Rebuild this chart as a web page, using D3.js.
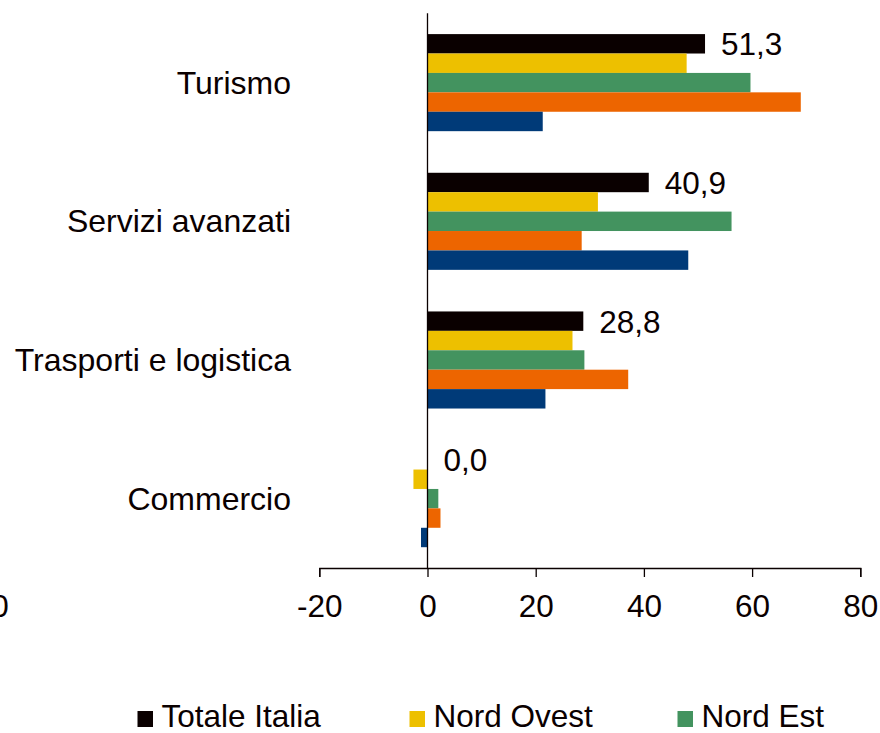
<!DOCTYPE html>
<html>
<head>
<meta charset="utf-8">
<script src="https://cdn.jsdelivr.net/npm/d3@7"></script>
<style>
  html, body { margin: 0; padding: 0; background: #fff; }
  svg { display: block; }
  text { font-family: "Liberation Sans", Arial, sans-serif; fill: #0a0000; }
</style>
</head>
<body>
<svg id="chart" width="880" height="733"></svg>
<script>
// ---- data ----
const categories = ["Turismo", "Servizi avanzati", "Trasporti e logistica", "Commercio"];
const seriesNames = ["Totale Italia", "Nord Ovest", "Nord Est", "Centro", "Mezzogiorno"];
const seriesColors = ["#0a0000", "#edc000", "#43935f", "#ed6500", "#003a78"];
const totaleItalia = [51.3, 40.9, 28.8, 0.0];
const nordOvest    = [47.9, 31.5, 26.8, -2.6];
const nordEst      = [59.7, 56.2, 29.0, 2.0];
const centro       = [69.0, 28.5, 37.1, 2.4];
const mezzogiorno  = [21.3, 48.2, 21.8, -1.2];
const seriesValues = [totaleItalia, nordOvest, nordEst, centro, mezzogiorno];
const xTicks = [-20, 0, 20, 40, 60, 80];
const legendShown = 3; // only first row of legend visible in the frame

// ---- layout ----
const svg = d3.select("#chart");
const fontSize = 31.5;
const catFontSize = 32;

const x = d3.scaleLinear().domain([-20, 80]).range([319.3, 860.3]);
const y = d3.scaleBand().domain(categories).range([13.3, 568]).paddingInner(0.3).paddingOuter(0.15);
const yInner = d3.scaleBand().domain(seriesNames).range([0, y.bandwidth()]);

const locale = d3.formatLocale({decimal: ",", thousands: ".", grouping: [3], currency: ["€", ""]});
const fmt = locale.format(".1f");

// bars
const rows = [];
categories.forEach((c, ci) => {
  seriesNames.forEach((s, si) => {
    rows.push({cat: c, series: s, value: seriesValues[si][ci], color: seriesColors[si]});
  });
});

svg.append("g").selectAll("rect").data(rows).join("rect")
  .attr("x", d => x(Math.min(0, d.value)))
  .attr("width", d => Math.abs(x(d.value) - x(0)))
  .attr("y", d => y(d.cat) + yInner(d.series))
  .attr("height", yInner.bandwidth())
  .attr("fill", d => d.color);

// value labels for Totale Italia
svg.append("g").selectAll("text").data(categories).join("text")
  .attr("x", (c, i) => x(Math.max(0, totaleItalia[i])) + 16)
  .attr("y", c => y(c) + yInner(seriesNames[0]) + yInner.bandwidth() / 2 + 11.4)
  .attr("font-size", fontSize)
  .text((c, i) => fmt(totaleItalia[i]));

// x axis
const xAxis = d3.axisBottom(x).tickValues(xTicks).tickSize(9).tickSizeOuter(9).tickPadding(8)
  .tickFormat(d => String(d));
const gx = svg.append("g").attr("transform", "translate(0,568)").call(xAxis);
gx.select(".domain").attr("stroke", "#0a0000").attr("stroke-width", 1.3);
gx.selectAll(".tick line").attr("stroke", "#0a0000").attr("stroke-width", 1.3);
gx.selectAll(".tick text").attr("font-size", fontSize).attr("fill", "#0a0000")
  .attr("font-family", "'Liberation Sans', Arial, sans-serif")
  .attr("dy", null).attr("y", 49);

// stray cropped label at the far left edge of the frame
svg.append("text").attr("x", 0).attr("y", 617).attr("text-anchor", "middle")
  .attr("font-size", fontSize).text("0");

// vertical zero axis
svg.append("line")
  .attr("x1", x(0)).attr("x2", x(0))
  .attr("y1", y.range()[0]).attr("y2", y.range()[1])
  .attr("stroke", "#0a0000").attr("stroke-width", 1.3);

// category labels
svg.append("g").selectAll("text").data(categories).join("text")
  .attr("x", 291)
  .attr("y", c => y(c) + y.bandwidth() / 2 + 11)
  .attr("text-anchor", "end")
  .attr("font-size", catFontSize)
  .text(c => c);

// legend (first row)
const legendX = [137.5, 409.5, 677.5];
const lg = svg.append("g").selectAll("g").data(seriesNames.slice(0, legendShown)).join("g")
  .attr("transform", (d, i) => `translate(${legendX[i]},711)`);
lg.append("rect").attr("width", 15.5).attr("height", 16).attr("fill", (d, i) => seriesColors[i]);
lg.append("text").attr("x", 24).attr("y", 16).attr("font-size", fontSize).text(d => d);
</script>
</body>
</html>
